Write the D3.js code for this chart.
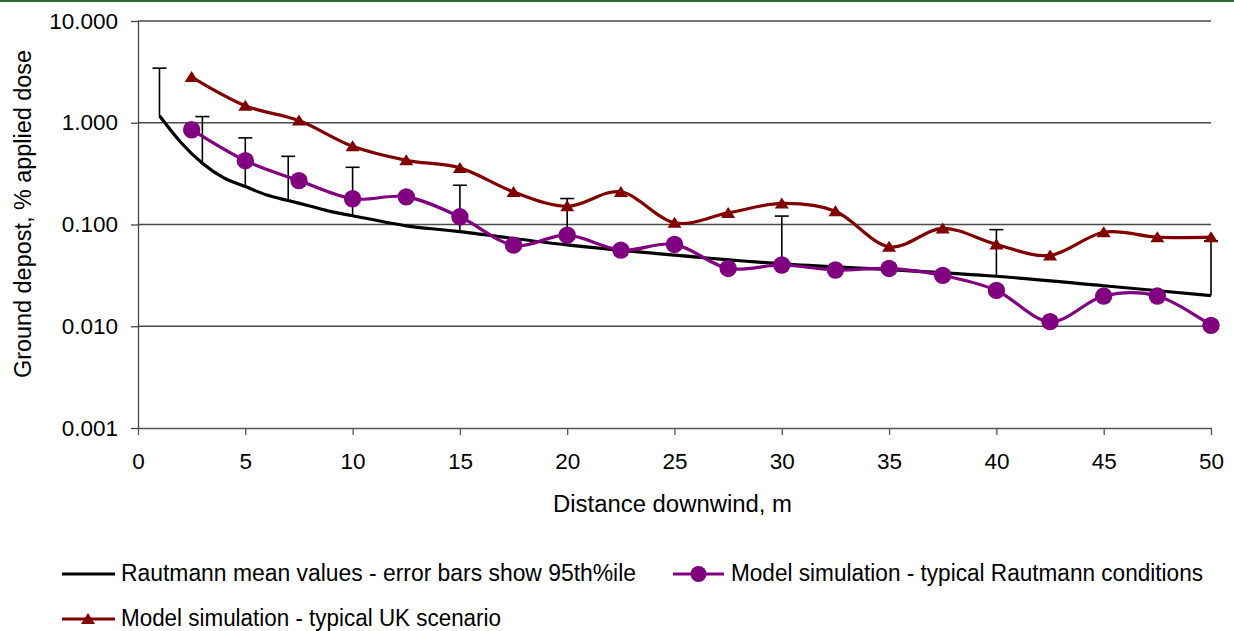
<!DOCTYPE html>
<html>
<head>
<meta charset="utf-8">
<script src="https://cdn.jsdelivr.net/npm/d3@7"></script>
<style>
  html, body { margin: 0; padding: 0; background: #fff; }
  svg { display: block; }
  text { font-family: "Liberation Sans", Arial, sans-serif; fill: #000; }
</style>
</head>
<body>
<svg id="chart" width="1234" height="631"></svg>
<script>
// ---- Data ----
const rautmannX = [1, 2, 3, 4, 5, 6, 7, 8, 9, 10, 12.5, 15, 20, 25, 30, 35, 40, 45, 50];
const rautmannMean = [1.17, 0.64, 0.40, 0.287, 0.236, 0.195, 0.172, 0.152, 0.134, 0.122, 0.097, 0.085, 0.063, 0.050, 0.041, 0.036, 0.031, 0.025, 0.020];

const errorX = [1, 3, 5, 7, 10, 15, 20, 30, 40, 50];
const errorBase = [1.17, 0.40, 0.236, 0.172, 0.122, 0.085, 0.063, 0.041, 0.031, 0.020];
const errorTop = [3.44, 1.15, 0.71, 0.468, 0.365, 0.243, 0.18, 0.121, 0.089, 0.069];

const modelX = [2.5, 5, 7.5, 10, 12.5, 15, 17.5, 20, 22.5, 25, 27.5, 30, 32.5, 35, 37.5, 40, 42.5, 45, 47.5, 50];
const modelRautmann = [0.854, 0.424, 0.270, 0.179, 0.187, 0.119, 0.0627, 0.0785, 0.056, 0.0637, 0.037, 0.040, 0.0357, 0.037, 0.0316, 0.0225, 0.0111, 0.0198, 0.0198, 0.0102];
const modelUK = [2.81, 1.47, 1.05, 0.586, 0.427, 0.36, 0.209, 0.151, 0.209, 0.104, 0.130, 0.161, 0.135, 0.0604, 0.0914, 0.0637, 0.0497, 0.084, 0.075, 0.075];

const xTicks = [0, 5, 10, 15, 20, 25, 30, 35, 40, 45, 50];
const yTicks = [0.001, 0.01, 0.1, 1, 10];

const legendLabels = [
  "Rautmann mean values - error bars show 95th%ile",
  "Model simulation - typical Rautmann conditions",
  "Model simulation - typical UK scenario"
];
const xTitle = "Distance downwind, m";
const yTitle = "Ground depost, % applied dose";

// ---- Layout ----
const svg = d3.select("#chart");
const plotL = 138, plotR = 1211, plotT = 21, plotB = 428;
const FONT = 23;
const TICKFONT = 22.5;

svg.append("rect").attr("x", 0).attr("y", 0).attr("width", 1234).attr("height", 2).attr("fill", "#2f6b2f");

const x = d3.scaleLinear().domain([0, 50]).range([plotL, plotR]);
const y = d3.scaleLog().domain([0.001, 10]).range([plotB, plotT]);

// gridlines
svg.append("g").selectAll("line").data(yTicks.filter(d => d > 0.001)).join("line")
  .attr("x1", plotL).attr("x2", plotR)
  .attr("y1", d => y(d)).attr("y2", d => y(d))
  .attr("stroke", "#4a4a4a").attr("stroke-width", 1.3);

// axes
const yAxis = d3.axisLeft(y).tickValues(yTicks).tickFormat(d3.format(".3f"))
  .tickSize(7).tickSizeOuter(0).tickPadding(13);
const gy = svg.append("g").attr("transform", `translate(${plotL},0)`).call(yAxis);
gy.selectAll("text").attr("font-size", TICKFONT).attr("font-family", "Liberation Sans, Arial, sans-serif").attr("fill", "#000");
gy.selectAll("line, path").attr("stroke", "#444").attr("stroke-width", 1.3);

const xAxis = d3.axisBottom(x).tickValues(xTicks).tickFormat(d3.format("d"))
  .tickSize(7).tickSizeOuter(0).tickPadding(18);
const gx = svg.append("g").attr("transform", `translate(0,${plotB})`).call(xAxis);
gx.selectAll("text").attr("font-size", TICKFONT).attr("font-family", "Liberation Sans, Arial, sans-serif").attr("fill", "#000");
gx.selectAll("line, path").attr("stroke", "#555").attr("stroke-width", 1.3);

// axis titles
svg.append("text").attr("x", 553).attr("y", 512)
  .attr("font-size", FONT).attr("textLength", 239).attr("lengthAdjust", "spacingAndGlyphs").text(xTitle);
svg.append("text").attr("transform", "translate(31,378) rotate(-90)")
  .attr("font-size", FONT).attr("textLength", 328).attr("lengthAdjust", "spacingAndGlyphs").text(yTitle);

// error bars
const eb = svg.append("g");
errorX.forEach((d, i) => {
  eb.append("line").attr("x1", x(d)).attr("x2", x(d))
    .attr("y1", y(errorBase[i])).attr("y2", y(errorTop[i]))
    .attr("stroke", "#000").attr("stroke-width", 1.6);
  eb.append("line").attr("x1", x(d) - 7).attr("x2", x(d) + 7)
    .attr("y1", y(errorTop[i])).attr("y2", y(errorTop[i]))
    .attr("stroke", "#000").attr("stroke-width", 1.6);
});

const curve = d3.curveCardinal.tension(0);

// Rautmann mean line
svg.append("path")
  .datum(rautmannX.map((d, i) => [d, rautmannMean[i]]))
  .attr("fill", "none").attr("stroke", "#000").attr("stroke-width", 3.2)
  .attr("d", d3.line().x(d => x(d[0])).y(d => y(d[1])).curve(curve));

// UK scenario line
const ukPts = modelX.map((d, i) => [d, modelUK[i]]);
svg.append("path").datum(ukPts)
  .attr("fill", "none").attr("stroke", "#800000").attr("stroke-width", 3.2)
  .attr("d", d3.line().x(d => x(d[0])).y(d => y(d[1])).curve(curve));

// Rautmann model line
const rmPts = modelX.map((d, i) => [d, modelRautmann[i]]);
svg.append("path").datum(rmPts)
  .attr("fill", "none").attr("stroke", "#800080").attr("stroke-width", 3.2)
  .attr("d", d3.line().x(d => x(d[0])).y(d => y(d[1])).curve(curve));

const tri = "M0,-6L7,5L-7,5Z";
svg.append("g").selectAll("path").data(ukPts).join("path")
  .attr("d", tri).attr("fill", "#800000")
  .attr("transform", d => `translate(${x(d[0])},${y(d[1])})`);

svg.append("g").selectAll("circle").data(rmPts).join("circle")
  .attr("cx", d => x(d[0])).attr("cy", d => y(d[1])).attr("r", 8.7)
  .attr("fill", "#800080");

// legend
const lg = svg.append("g");
lg.append("line").attr("x1", 62).attr("x2", 115).attr("y1", 574).attr("y2", 574)
  .attr("stroke", "#000").attr("stroke-width", 3.2);
lg.append("text").attr("x", 121).attr("y", 581).attr("font-size", FONT)
  .attr("textLength", 515).attr("lengthAdjust", "spacingAndGlyphs").text(legendLabels[0]);
lg.append("line").attr("x1", 673).attr("x2", 724).attr("y1", 574).attr("y2", 574)
  .attr("stroke", "#800080").attr("stroke-width", 3.2);
lg.append("circle").attr("cx", 698.5).attr("cy", 574).attr("r", 8).attr("fill", "#800080");
lg.append("text").attr("x", 731).attr("y", 581).attr("font-size", FONT)
  .attr("textLength", 472).attr("lengthAdjust", "spacingAndGlyphs").text(legendLabels[1]);
lg.append("line").attr("x1", 62).attr("x2", 115).attr("y1", 619).attr("y2", 619)
  .attr("stroke", "#800000").attr("stroke-width", 3.2);
lg.append("path").attr("d", tri).attr("fill", "#800000").attr("transform", "translate(88,619)");
lg.append("text").attr("x", 121).attr("y", 626).attr("font-size", FONT)
  .attr("textLength", 380).attr("lengthAdjust", "spacingAndGlyphs").text(legendLabels[2]);
</script>
</body>
</html>
